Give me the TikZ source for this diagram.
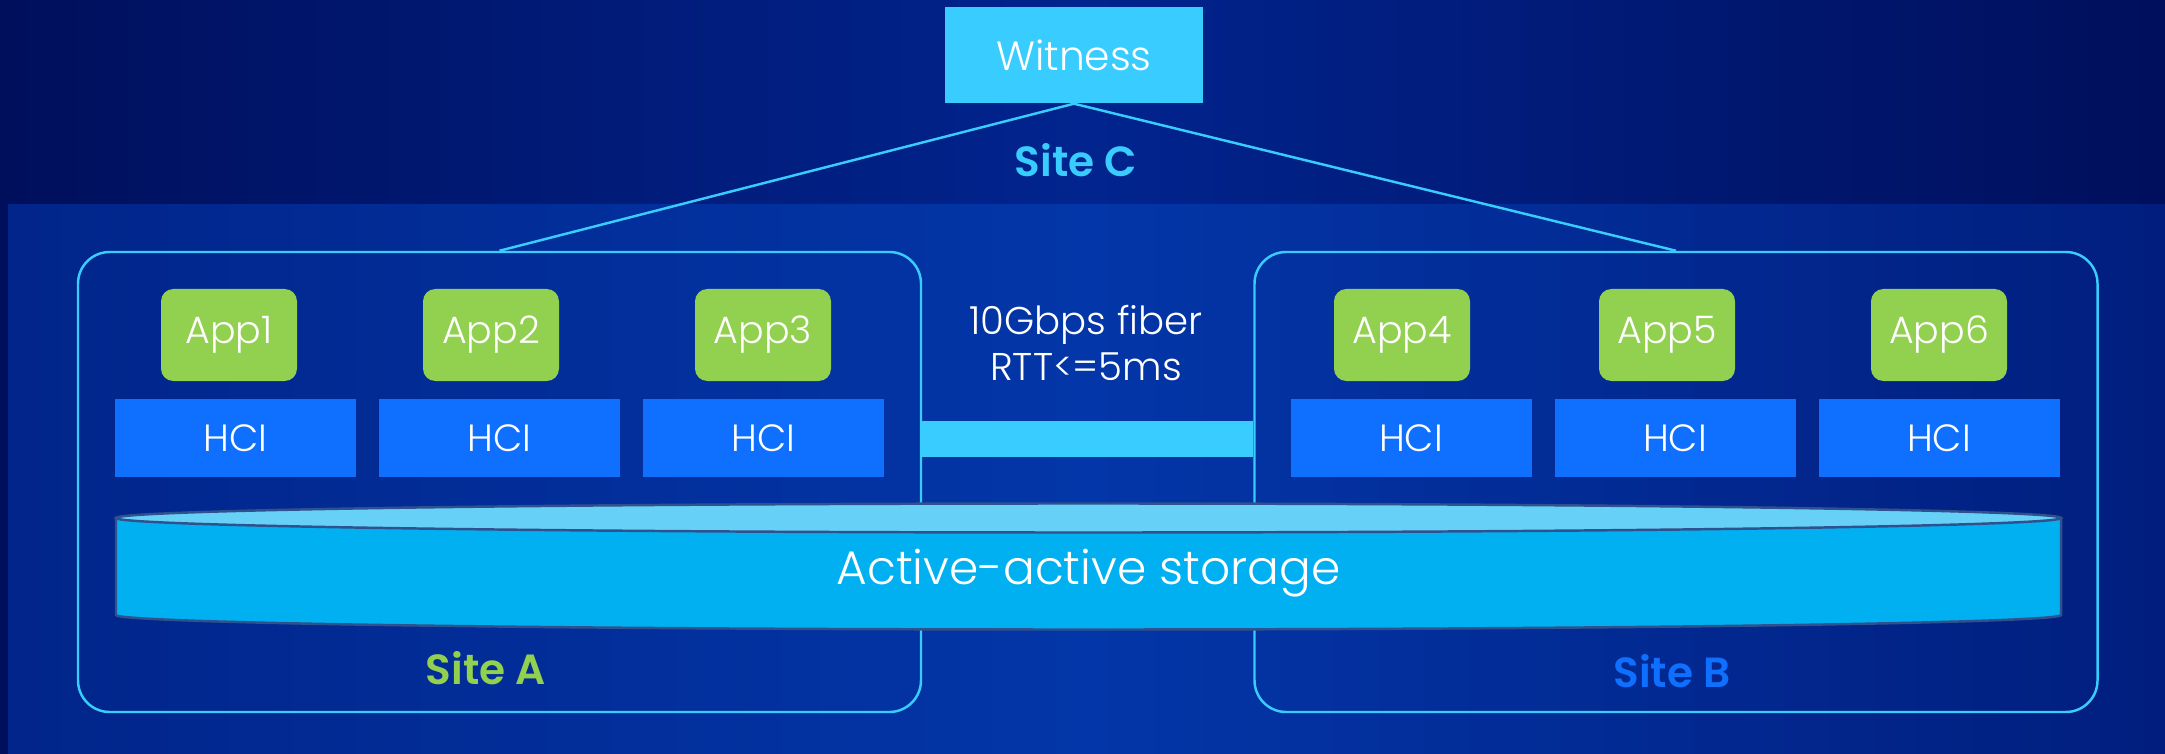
\documentclass[tikz,border=0pt]{standalone}
\usepackage{fontspec}
\setmainfont{Poppins}[UprightFont=* Light, BoldFont=* SemiBold]
\usetikzlibrary{positioning}
\definecolor{NightBlue}{HTML}{000F5C}
\definecolor{BandBlue}{HTML}{01248E}
\definecolor{PanelEdge}{HTML}{01258A}
\definecolor{PanelMid}{HTML}{0336A8}
\definecolor{PanelRight}{HTML}{011E7E}
\definecolor{SkyCyan}{HTML}{38CCFF}
\definecolor{AppGreen}{HTML}{92D050}
\definecolor{HciBlue}{HTML}{0F6FFF}
\definecolor{DiskTop}{HTML}{66D0F6}
\definecolor{DiskBody}{HTML}{00B0F0}
\definecolor{DiskEdge}{HTML}{2F528F}

\begin{document}
\begin{tikzpicture}[
  sitebox/.style={draw=SkyCyan, line width=0.7pt, rounded corners=9pt,
    minimum width=8.43cm, minimum height=4.60cm},
  appbox/.style={fill=AppGreen, rounded corners=3.5pt, text=white, inner sep=0pt,
    minimum width=1.36cm, minimum height=0.92cm, font=\fontsize{10.8}{12}\selectfont},
  hcibox/.style={fill=HciBlue, text=white, inner sep=0pt, outer sep=0pt,
    minimum width=2.41cm, minimum height=0.78cm, font=\fontsize{10.8}{12}\selectfont},
  sitelabel/.style={font=\bfseries\fontsize{12}{14}\selectfont},
  uplink/.style={draw=SkyCyan, line width=0.7pt},
  fiberlink/.style={draw=SkyCyan, line width=0.36cm}
]
\useasboundingbox (0,0) rectangle (21.65,7.53);

% backdrop
\shade[left color=NightBlue, right color=NightBlue, middle color=BandBlue] (0,0) rectangle (21.65,7.53);
\shade[left color=PanelEdge, right color=PanelRight, middle color=PanelMid] (0.08,0) rectangle (21.65,5.48);

\node[fill=SkyCyan, text=white, minimum width=2.58cm, minimum height=0.96cm,
  font=\fontsize{11.6}{14}\selectfont] (witness) at (10.74,6.98) {Witness};
\node[sitelabel, text=SkyCyan] (sitec) at (10.76,5.93) {Site C};

\node[sitebox] (siteA) at (4.995,2.71) {};
\node[sitebox] (siteB) at (16.76,2.71) {};

\draw[uplink] (witness.south) -- (siteA.north);
\draw[uplink] (witness.south) -- (siteB.north);

% hosts
\node[hcibox] (hci1) at (2.355,3.15) {HCI};
\node[hcibox, right=0.23cm of hci1] (hci2) {HCI};
\node[hcibox, right=0.23cm of hci2] (hci3) {HCI};
\node[hcibox] (hci4) at (14.11,3.15) {HCI};
\node[hcibox, right=0.23cm of hci4] (hci5) {HCI};
\node[hcibox, right=0.23cm of hci5] (hci6) {HCI};

\node[appbox] (app1) at (2.29,4.18) {App1};
\node[appbox] (app2) at (4.91,4.18) {App2};
\node[appbox] (app3) at (7.63,4.18) {App3};
\node[appbox] (app4) at (14.02,4.18) {App4};
\node[appbox] (app5) at (16.67,4.18) {App5};
\node[appbox] (app6) at (19.39,4.18) {App6};

% link between sites
\coordinate (fibery) at (10.88,3.14);
\draw[fiberlink] (siteA.east |- fibery) -- (siteB.west |- fibery);
\node[text=white, align=center, font=\fontsize{11}{13}\selectfont] (fibertext) at (10.86,4.10)
  {10Gbps fiber\\RTT<=5ms};

% storage
\fill[DiskBody] (1.16,2.35) -- (1.16,1.38)
  arc[start angle=180, end angle=360, x radius=9.725cm, y radius=0.145cm] -- (20.61,2.35) -- cycle;
\draw[DiskEdge, line width=0.7pt] (1.16,2.35) -- (1.16,1.38)
  arc[start angle=180, end angle=360, x radius=9.725cm, y radius=0.145cm] -- (20.61,2.35);
\draw[DiskEdge, fill=DiskTop, line width=0.7pt] (10.885,2.35) ellipse[x radius=9.725cm, y radius=0.145cm];
\node[text=white, font=\fontsize{13.4}{15}\selectfont] (storage) at (10.885,1.80) {Active-active storage};

\node[sitelabel, text=AppGreen] (sitea) at (4.86,0.85) {Site A};
\node[sitelabel, text=HciBlue] (siteb) at (16.72,0.82) {Site B};

\end{tikzpicture}
\end{document}
